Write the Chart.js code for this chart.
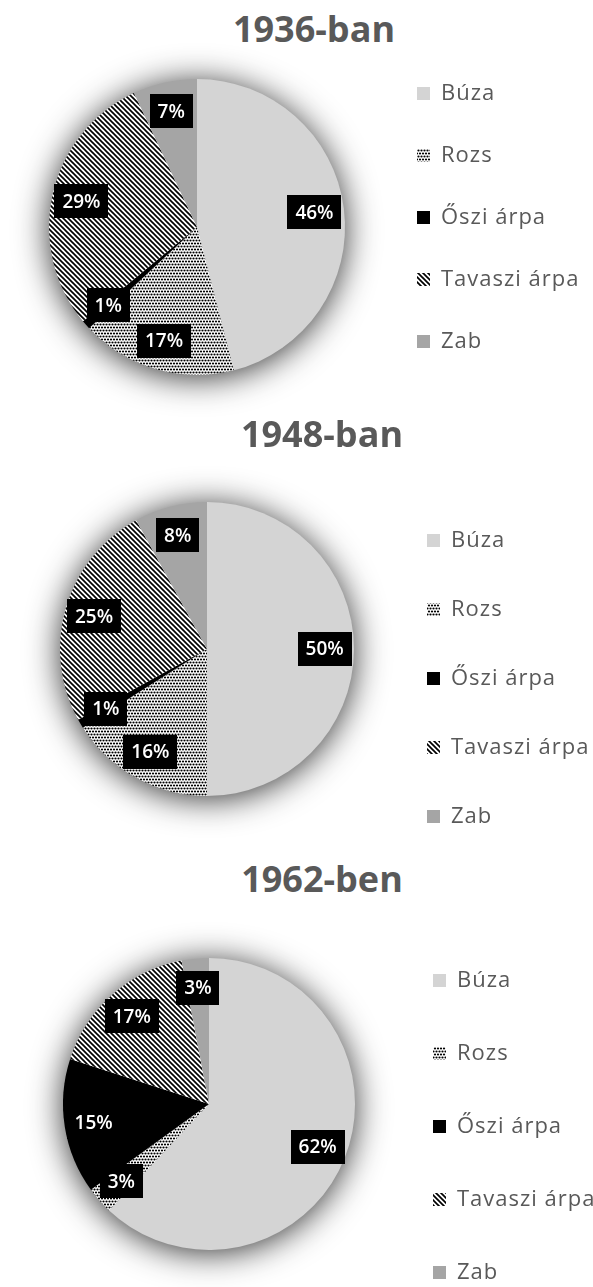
<!DOCTYPE html>
<html lang="hu">
<head>
<meta charset="utf-8">
<title>Gabonafélék vetésterülete</title>
<script src="https://cdn.jsdelivr.net/npm/chart.js@4.4.1/dist/chart.umd.min.js"></script>
<style>
  html, body { margin: 0; padding: 0; background: #fff; overflow: hidden; }
  body { position: relative; width: 593px; height: 1287px; font-family: "Open Sans", sans-serif; }
  .chart-title { position: absolute; width: 280px; margin-left: -140px; text-align: center;
    font-size: 36px; font-weight: bold; color: #595959; line-height: 40px; white-space: nowrap; }
  canvas { position: absolute; left: 0; }
</style>
</head>
<body>
<script>
var categories = ["Búza", "Rozs", "Őszi árpa", "Tavaszi árpa", "Zab"];
var titles = ["1936-ban", "1948-ban", "1962-ben"];
var values1936 = [46, 17, 1, 29, 7];
var values1948 = [50, 16, 1, 25, 8];
var values1962 = [62, 3, 15, 17, 3];
var allValues = [values1936, values1948, values1962];

// where each pie block sits on the page
var blocks = [
  {titleX: 314, titleY: 29,  cx: 197, cy: 227,  r: 148, legendX: 417, legendY: 93,  legendGap: 62},
  {titleX: 322, titleY: 434, cx: 207, cy: 649,  r: 147, legendX: 427, legendY: 540, legendGap: 69},
  {titleX: 322, titleY: 879, cx: 209, cy: 1104, r: 146, legendX: 433, legendY: 980, legendGap: 73}
];
var HALF = 192;

function makePattern(size, paint) {
  var c = document.createElement('canvas');
  c.width = size; c.height = size;
  var g = c.getContext('2d');
  g.fillStyle = '#fff';
  g.fillRect(0, 0, size, size);
  g.fillStyle = '#000';
  g.strokeStyle = '#000';
  paint(g, size);
  return g.createPattern(c, 'repeat');
}

// small staggered dots
var dots = makePattern(6, function (g) {
  [[1.5, 1.5], [4.5, 1.5], [0, 4.5], [3, 4.5], [6, 4.5]].forEach(function (p) {
    g.beginPath();
    g.arc(p[0], p[1], 1.1, 0, Math.PI * 2);
    g.fill();
  });
});

// "\" stripes
var stripes = makePattern(5, function (g, s) {
  g.lineWidth = 1.7;
  for (var k = -1; k <= 1; k++) {
    g.beginPath();
    g.moveTo(k * s - 1, -1);
    g.lineTo(k * s + s + 1, s + 1);
    g.stroke();
  }
});

var fills = ['#d4d4d4', dots, '#000000', stripes, '#a5a5a5'];

// soft glow under the whole pie
var pieShadow = {
  id: 'pieShadow',
  beforeDatasetsDraw: function (chart) {
    var arc = chart.getDatasetMeta(0).data[0];
    var ctx = chart.ctx;
    ctx.save();
    ctx.shadowColor = 'rgba(0,0,0,0.85)';
    ctx.shadowBlur = 34;
    ctx.shadowOffsetY = 3;
    ctx.fillStyle = '#fff';
    ctx.beginPath();
    ctx.arc(arc.x, arc.y, arc.outerRadius - 1, 0, Math.PI * 2);
    ctx.fill();
    ctx.restore();
  }
};

var sliceLabels = {
  id: 'sliceLabels',
  afterDatasetsDraw: function (chart) {
    var ctx = chart.ctx;
    var values = chart.data.datasets[0].data;
    ctx.save();
    ctx.font = '600 19px "Open Sans"';
    ctx.textAlign = 'center';
    ctx.textBaseline = 'middle';
    chart.getDatasetMeta(0).data.forEach(function (arc, k) {
      var mid = (arc.startAngle + arc.endAngle) / 2;
      var d = arc.outerRadius * 0.8;
      var x = arc.x + Math.cos(mid) * d;
      var y = arc.y + Math.sin(mid) * d;
      var text = values[k] + '%';
      var w = ctx.measureText(text).width + 16;
      var h = 34;
      ctx.fillStyle = '#000';
      ctx.fillRect(Math.round(x - w / 2), Math.round(y - h / 2), Math.round(w), h);
      ctx.fillStyle = '#fff';
      ctx.fillText(text, x, y + 1);
    });
    ctx.restore();
  }
};

// legend column on the right, spaced like the original
var sideLegend = {
  id: 'sideLegend',
  afterDraw: function (chart, args, opts) {
    var ctx = chart.ctx;
    ctx.save();
    ctx.font = '22px "Open Sans"';
    ctx.letterSpacing = '1px';
    ctx.textBaseline = 'middle';
    chart.legend.legendItems.forEach(function (item, i) {
      var y = opts.y + i * opts.gap;
      ctx.fillStyle = item.fillStyle;
      ctx.fillRect(opts.x, Math.round(y - 6), 13, 13);
      ctx.fillStyle = '#595959';
      ctx.fillText(item.text, opts.x + 24, y + 1);
    });
    ctx.restore();
  }
};

blocks.forEach(function (b, i) {
  var t = document.createElement('div');
  t.className = 'chart-title';
  t.textContent = titles[i];
  t.style.left = b.titleX + 'px';
  t.style.top = (b.titleY - 20) + 'px';
  document.body.appendChild(t);

  var canvas = document.createElement('canvas');
  canvas.width = 593;
  canvas.height = HALF * 2;
  canvas.style.top = (b.cy - HALF) + 'px';
  document.body.appendChild(canvas);

  new Chart(canvas, {
    type: 'pie',
    data: {
      labels: categories,
      datasets: [{
        data: allValues[i],
        backgroundColor: fills,
        borderWidth: 0,
        radius: b.r
      }]
    },
    options: {
      responsive: false,
      animation: false,
      events: [],
      layout: {padding: {left: 0, right: 593 - 2 * b.cx, top: 0, bottom: 0}},
      plugins: {
        legend: {display: false},
        tooltip: {enabled: false},
        sideLegend: {x: b.legendX, y: b.legendY - (b.cy - HALF), gap: b.legendGap}
      }
    },
    plugins: [pieShadow, sliceLabels, sideLegend]
  });
});
</script>
</body>
</html>
